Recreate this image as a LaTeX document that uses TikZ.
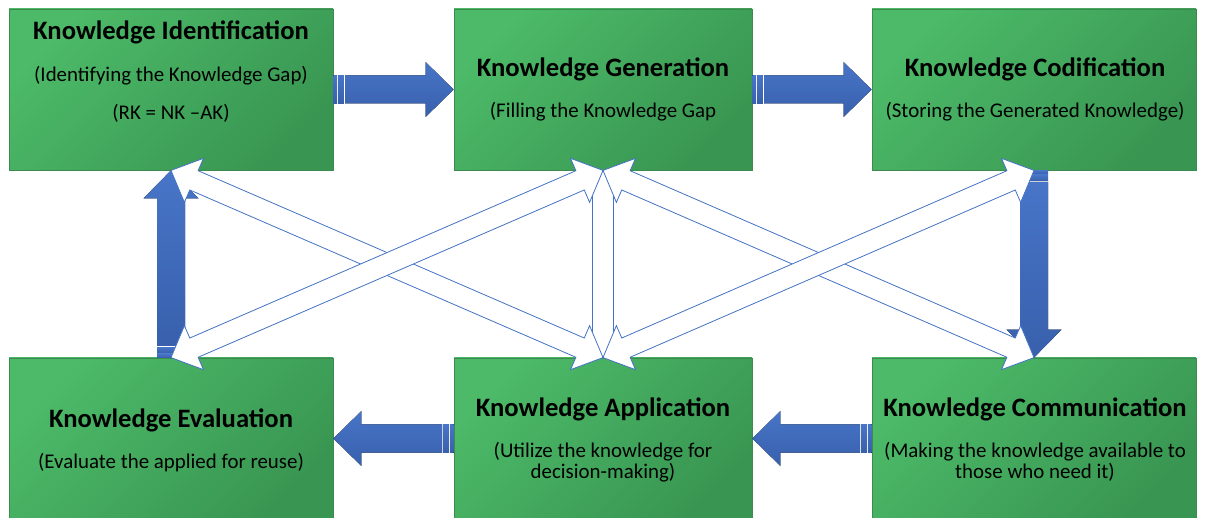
\documentclass[tikz,border=0pt]{standalone}
\usepackage{fontspec}
\setmainfont{Carlito}
\usetikzlibrary{calc}
\definecolor{gL}{RGB}{76,186,104}
\definecolor{gD}{RGB}{57,150,82}
\definecolor{gB}{RGB}{60,138,78}
\definecolor{bL}{RGB}{72,117,200}
\definecolor{bD}{RGB}{56,96,172}
\definecolor{bE}{RGB}{68,114,196}
\tikzset{
 gbox/.style={draw=gB, line width=0.8pt, top color=gL, bottom color=gD, shading angle=45, minimum height=161pt, inner sep=0pt},
 ttl/.style={font=\fontsize{26.6}{31}\selectfont\bfseries, anchor=base, inner sep=0pt},
 subtxt/.style={font=\fontsize{20.9}{21}\selectfont, anchor=base, inner sep=0pt},
 barrow/.style={top color=bL, bottom color=bD},
 warrow/.style={draw=bE, fill=white, line width=0.8pt, line join=miter},
}
\newcommand{\stripedarrow}[2]{%
 \coordinate (sa0) at (#1); \coordinate (sa1) at (#2);
 \fill[barrow] ($(sa0)!0pt!(sa1)!14pt!90:(sa1)$) -- ($(sa0)!3.6pt!(sa1)!14pt!90:(sa1)$) -- ($(sa0)!3.6pt!(sa1)!-14pt!90:(sa1)$) -- ($(sa0)!0pt!(sa1)!-14pt!90:(sa1)$) -- cycle;
 \fill[barrow] ($(sa0)!4.6pt!(sa1)!14pt!90:(sa1)$) -- ($(sa0)!10.4pt!(sa1)!14pt!90:(sa1)$) -- ($(sa0)!10.4pt!(sa1)!-14pt!90:(sa1)$) -- ($(sa0)!4.6pt!(sa1)!-14pt!90:(sa1)$) -- cycle;
 \fill[barrow] ($(sa0)!11.6pt!(sa1)!14pt!90:(sa1)$) -- ($(sa1)!28pt!(sa0)!14pt!90:(sa1)$) -- ($(sa1)!28pt!(sa0)!27.5pt!90:(sa1)$) -- (sa1) -- ($(sa1)!28pt!(sa0)!-27.5pt!90:(sa1)$) -- ($(sa1)!28pt!(sa0)!-14pt!90:(sa1)$) -- ($(sa0)!11.6pt!(sa1)!-14pt!90:(sa1)$) -- cycle;
}
% #1 end A, #2 end B, #3 shaft half width, #4 head half width, #5 head length
\newcommand{\wdarrow}[5]{%
 \coordinate (wa) at (#1); \coordinate (wb) at (#2);
 \filldraw[warrow] (wa) -- ($(wa)!#5!(wb)!#4!90:(wb)$) -- ($(wa)!#5!(wb)!#3!90:(wb)$) -- ($(wb)!#5!(wa)!#3!90:(wb)$) -- ($(wb)!#5!(wa)!#4!90:(wb)$) -- (wb) -- ($(wb)!#5!(wa)!-#4!90:(wb)$) -- ($(wb)!#5!(wa)!-#3!90:(wb)$) -- ($(wa)!#5!(wb)!-#3!90:(wb)$) -- ($(wa)!#5!(wb)!-#4!90:(wb)$) -- cycle;
}
\begin{document}
\begin{tikzpicture}[x=1pt,y=1pt]
\useasboundingbox (0,0) rectangle (1205,-518);
% boxes
\node[gbox, minimum width=324pt] (b1) at (171,-89.5) {};
\node[gbox, minimum width=298pt] (b2) at (603,-89.5) {};
\node[gbox, minimum width=324pt] (b3) at (1034,-89.5) {};
\node[gbox, minimum width=324pt] (b4) at (171,-438.5) {};
\node[gbox, minimum width=298pt] (b5) at (603,-438.5) {};
\node[gbox, minimum width=324pt] (b6) at (1034,-438.5) {};
% texts
\node[ttl] (t1) at (171,-40) {Knowledge Identification};
\node[subtxt] (s1a) at (171,-82) {(Identifying the Knowledge Gap)};
\node[subtxt] (s1b) at (171,-120) {(RK = NK –AK)};
\node[ttl] (t2) at (603,-77) {Knowledge Generation};
\node[subtxt] (s2) at (603,-118) {(Filling the Knowledge Gap};
\node[ttl] (t3) at (1035,-77) {Knowledge Codification};
\node[subtxt] (s3) at (1035,-118) {(Storing the Generated Knowledge)};
\node[ttl] (t4) at (171,-428) {Knowledge Evaluation};
\node[subtxt] (s4) at (171,-468) {(Evaluate the applied for reuse)};
\node[ttl] (t5) at (603,-417) {Knowledge Application};
\node[subtxt] (s5a) at (603,-457) {(Utilize the knowledge for};
\node[subtxt] (s5b) at (603,-478) {decision-making)};
\node[ttl] (t6) at (1035,-417) {Knowledge Communication};
\node[subtxt] (s6a) at (1035,-457) {(Making the knowledge available to};
\node[subtxt] (s6b) at (1035,-478) {those who need it)};
% blue striped arrows
\stripedarrow{b1.east}{b2.west}
\stripedarrow{b2.east}{b3.west}
\stripedarrow{b3.south}{b6.north}
\stripedarrow{b6.west}{b5.east}
\stripedarrow{b5.west}{b4.east}
\stripedarrow{b4.north}{b1.south}
% white double arrows
\wdarrow{b2.south}{b5.north}{10.5pt}{15pt}{19pt}
\wdarrow{b1.south}{b5.north}{10.5pt}{24pt}{25pt}
\wdarrow{b4.north}{b2.south}{10.5pt}{24pt}{25pt}
\wdarrow{b2.south}{b6.north}{10.5pt}{24pt}{25pt}
\wdarrow{b5.north}{b3.south}{10.5pt}{24pt}{25pt}
\end{tikzpicture}
\end{document}
